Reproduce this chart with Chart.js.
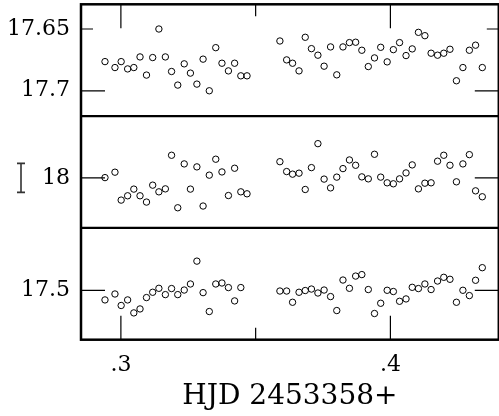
<!DOCTYPE html>
<html>
<head>
<meta charset="utf-8">
<script src="https://cdn.jsdelivr.net/npm/chart.js@4.4.1/dist/chart.umd.min.js"></script>
<style>
html, body { margin: 0; padding: 0; background: #fff; overflow: hidden; }
#caja { width: 503px; height: 416px; }
</style>
</head>
<body>
<div id="caja"><canvas id="curvaLuz" width="503" height="416"></canvas></div>
<script>
"use strict";

// tiempos (HJD - 2453358)
const hjd = [
    0.2941, 0.2978, 0.3001, 0.3025, 0.3048, 0.3071, 0.3095, 0.3118, 0.3141, 0.3165, 0.3188, 0.3211,
    0.3235, 0.3258, 0.3282, 0.3305, 0.3328, 0.3352, 0.3375, 0.3399, 0.3422, 0.3445, 0.3468,
    0.3590, 0.3615, 0.3637, 0.3661, 0.3684, 0.3707, 0.3731, 0.3754, 0.3778, 0.3801, 0.3824,
    0.3848, 0.3871, 0.3894, 0.3918, 0.3941, 0.3964, 0.3988, 0.4011, 0.4034, 0.4058, 0.4081,
    0.4104, 0.4128, 0.4151, 0.4175, 0.4198, 0.4221, 0.4245, 0.4269, 0.4293, 0.4316, 0.4341
];

const magArriba = [
    17.6764, 17.6812, 17.6764, 17.6823, 17.6812, 17.6726, 17.6873, 17.6731, 17.6500, 17.6726, 17.6844, 17.6954,
    17.6782, 17.6857, 17.6946, 17.6744, 17.7000, 17.6651, 17.6777, 17.6839, 17.6777, 17.6879, 17.6879,
    17.6597, 17.6750, 17.6777, 17.6839, 17.6567, 17.6659, 17.6712, 17.6801, 17.6645, 17.6871, 17.6645,
    17.6610, 17.6607, 17.6672, 17.6804, 17.6734, 17.6648, 17.6766, 17.6667, 17.6610, 17.6715, 17.6661,
    17.6527, 17.6554, 17.6696, 17.6712, 17.6696, 17.6664, 17.6919, 17.6812, 17.6672, 17.6631, 17.6812
];

const magMedio = [
    17.9998, 17.9954, 18.0180, 18.0145, 18.0091, 18.0145, 18.0196, 18.0059, 18.0113, 18.0089, 17.9817, 18.0242,
    17.9887, 18.0091, 17.9911, 18.0228, 17.9978, 17.9849, 17.9952, 18.0143, 17.9922, 18.0113, 18.0129,
    17.9869, 17.9949, 17.9970, 17.9962, 18.0094, 17.9917, 17.9723, 18.0010, 18.0081, 17.9994, 17.9925,
    17.9855, 17.9898, 17.9992, 18.0008, 17.9809, 17.9994, 18.0040, 18.0048, 18.0008, 17.9960, 17.9895,
    18.0089, 18.0043, 18.0040, 17.9865, 17.9817, 17.9898, 18.0032, 17.9887, 17.9812, 18.0105, 18.0153
];

const magAbajo = [
    17.5078, 17.5030, 17.5123, 17.5078, 17.5183, 17.5151, 17.5059, 17.5016, 17.4984, 17.5035, 17.4986, 17.5035,
    17.4998, 17.4949, 17.4764, 17.5019, 17.5172, 17.4949, 17.4941, 17.4978, 17.5086, 17.4978, null,
    17.5006, 17.5006, 17.5097, 17.5016, 17.5002, 17.4990, 17.5022, 17.4998, 17.5051, 17.5164, 17.4917,
    17.4984, 17.4885, 17.4873, 17.4994, 17.5188, 17.5105, 17.5000, 17.5010, 17.5089, 17.5070, 17.4976,
    17.4986, 17.4949, 17.4994, 17.4925, 17.4895, 17.4911, 17.5097, 17.5000, 17.5043, 17.4919, 17.4817
];

// marcas de los ejes
const xEtiquetas = [0.3, 0.4];
const xMenores   = [0.35];
const yArribaEtiquetas = [17.65, 17.7];
const yMedioEtiquetas  = [18];
const yAbajoEtiquetas  = [17.5];
const yArribaMayores = [17.7];
const yArribaMenores = [17.65];
const yMedioMayores  = [18];
const yAbajoMayores  = [17.5];
const barraError = 0.0235;   // tamaño de la barra "I" del panel medio

const fuenteNum = "'DejaVu Serif', serif";

function puntos(mags) {
    return hjd.map((t, i) => ({ x: t, y: mags[i] })).filter(p => p.y !== null);
}

function serie(mags, eje) {
    return {
        data: puntos(mags),
        yAxisID: eje,
        showLine: false,
        pointRadius: 3.2,
        pointHoverRadius: 3.2,
        pointBorderWidth: 1,
        pointBorderColor: '#000',
        pointBackgroundColor: 'rgba(255,255,255,0)'
    };
}

function sinRelleno(s) {
    s.paddingTop = 0;
    s.paddingBottom = 0;
    s.paddingLeft = 0;
    s.paddingRight = 0;
}

function ejeY(min, max, etiquetas) {
    return {
        type: 'linear',
        position: 'left',
        stack: 'mag',
        stackWeight: 1,
        reverse: true,
        min: min,
        max: max,
        offset: false,
        grid: { display: false, drawTicks: false },
        border: { display: false },
        afterBuildTicks: s => { s.ticks = etiquetas.map(v => ({ value: v })); },
        afterFit: s => { s.width = 81; sinRelleno(s); },
        ticks: {
            autoSkip: false,
            padding: 11,
            color: '#000',
            font: { family: fuenteNum, size: 22 },
            callback: v => String(v)
        }
    };
}

const marcoPlugin = {
    id: 'marco',
    afterDatasetsDraw(chart) {
        const ctx = chart.ctx;
        const a = chart.chartArea;
        const sx = chart.scales.x;
        const paneles = [
            [chart.scales.yArriba, yArribaMayores, yArribaMenores],
            [chart.scales.yMedio, yMedioMayores, []],
            [chart.scales.yAbajo, yAbajoMayores, []]
        ];
        ctx.save();
        ctx.strokeStyle = '#000';
        ctx.lineWidth = 1.2;
        ctx.beginPath();
        // marcas en x (arriba y abajo)
        xEtiquetas.concat(xMenores).forEach(v => {
            const largo = xEtiquetas.includes(v) ? 24 : 12;
            const px = sx.getPixelForValue(v);
            ctx.moveTo(px, a.top); ctx.lineTo(px, a.top + largo);
            ctx.moveTo(px, a.bottom); ctx.lineTo(px, a.bottom - largo);
        });
        // marcas en y (izquierda y derecha)
        paneles.forEach(([s, mayores, menores]) => {
            mayores.concat(menores).forEach(v => {
                const largo = mayores.includes(v) ? 24 : 12;
                const py = s.getPixelForValue(v);
                ctx.moveTo(a.left, py); ctx.lineTo(a.left + largo, py);
                ctx.moveTo(a.right, py); ctx.lineTo(a.right - largo, py);
            });
        });
        ctx.stroke();

        // divisiones entre paneles
        ctx.lineWidth = 2.2;
        ctx.beginPath();
        [chart.scales.yMedio, chart.scales.yAbajo].forEach(s => {
            ctx.moveTo(a.left, s.top); ctx.lineTo(a.right, s.top);
        });
        ctx.stroke();

        // marco
        ctx.lineWidth = 2.5;
        ctx.strokeRect(a.left, a.top, a.right - a.left, a.bottom - a.top);

        // barra de error del panel medio
        const sm = chart.scales.yMedio;
        const y1 = sm.getPixelForValue(18 - barraError / 2);
        const y2 = sm.getPixelForValue(18 + barraError / 2);
        const bx = 21;
        ctx.strokeStyle = '#333';
        ctx.lineWidth = 1.6;
        ctx.beginPath();
        ctx.moveTo(bx, y1); ctx.lineTo(bx, y2);
        ctx.moveTo(bx - 4, y1); ctx.lineTo(bx + 4, y1);
        ctx.moveTo(bx - 4, y2); ctx.lineTo(bx + 4, y2);
        ctx.stroke();
        ctx.restore();
    }
};

new Chart(document.getElementById('curvaLuz'), {
    type: 'scatter',
    data: {
        datasets: [
            serie(magAbajo, 'yAbajo'),
            serie(magMedio, 'yMedio'),
            serie(magArriba, 'yArriba')
        ]
    },
    options: {
        responsive: false,
        animation: false,
        events: [],
        layout: { padding: { top: 4.3, right: 2, bottom: 0, left: 0 } },
        plugins: {
            legend: { display: false },
            tooltip: { enabled: false }
        },
        scales: {
            x: {
                type: 'linear',
                position: 'bottom',
                min: 0.2852,
                max: 0.44022,
                grid: { display: false, drawTicks: false },
                border: { display: false },
                afterBuildTicks: s => { s.ticks = xEtiquetas.map(v => ({ value: v })); },
                afterFit: s => { s.height = 76.3; sinRelleno(s); },
                ticks: {
                    autoSkip: false,
                    maxRotation: 0,
                    padding: 12,
                    color: '#000',
                    font: { family: fuenteNum, size: 22 },
                    callback: v => String(v).replace(/^0/, '')
                },
                title: {
                    display: true,
                    text: 'HJD 2453358+',
                    color: '#000',
                    padding: { top: 0, bottom: 2 },
                    font: { family: fuenteNum, size: 28 }
                }
            },
            yAbajo: ejeY(17.4495, 17.54, yAbajoEtiquetas),
            yMedio: ejeY(17.95, 18.0405, yMedioEtiquetas),
            yArriba: ejeY(17.63, 17.7205, yArribaEtiquetas)
        }
    },
    plugins: [marcoPlugin]
});
</script>
</body>
</html>
